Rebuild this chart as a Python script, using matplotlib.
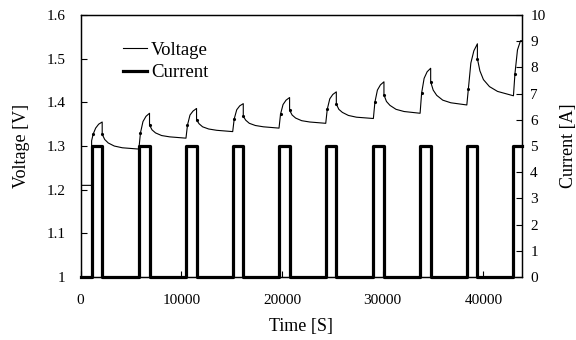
import numpy as np
import matplotlib.pyplot as plt
from matplotlib.ticker import FuncFormatter

plt.rcParams['font.family'] = ['Liberation Serif', 'DejaVu Serif']

# pulse timing [s]
pulse_start = [1090, 5790, 10460, 15100, 19700, 24340, 29070, 33710, 38350, 42980]
pulse_width = 1050
pulse_current = 5.0
t_end = 43815

# voltage before the first pulse
v_initial = 1.21

# voltage during charge, sampled at these offsets from pulse start
charge_dt = [0, 150, 400, 700, 1050]
charge_v = [
    [1.312, 1.327, 1.341, 1.350, 1.355],
    [1.295, 1.330, 1.356, 1.368, 1.375],
    [1.318, 1.348, 1.371, 1.380, 1.386],
    [1.333, 1.362, 1.383, 1.392, 1.397],
    [1.341, 1.373, 1.395, 1.405, 1.411],
    [1.352, 1.384, 1.408, 1.418, 1.424],
    [1.363, 1.400, 1.428, 1.440, 1.447],
    [1.375, 1.421, 1.455, 1.470, 1.478],
    [1.394, 1.430, 1.490, 1.518, 1.534],
    [1.415, 1.466, 1.520, 1.541, 1.541],
]

# voltage during rest, offsets from pulse end (last value at next pulse start)
rest_dt = [0, 250, 600, 1200, 2000]
rest_v = [
    [1.327, 1.315, 1.307, 1.300, 1.296, 1.293],
    [1.348, 1.337, 1.330, 1.324, 1.321, 1.318],
    [1.360, 1.351, 1.344, 1.339, 1.336, 1.333],
    [1.368, 1.359, 1.352, 1.347, 1.344, 1.341],
    [1.382, 1.371, 1.364, 1.358, 1.355, 1.352],
    [1.396, 1.384, 1.377, 1.370, 1.366, 1.363],
    [1.417, 1.402, 1.393, 1.384, 1.379, 1.375],
    [1.447, 1.428, 1.416, 1.405, 1.399, 1.394],
    [1.500, 1.472, 1.452, 1.436, 1.425, 1.415],
]

# build voltage curve
vt = [0, pulse_start[0]]
vv = [v_initial, v_initial]
marks = []
for i, t0 in enumerate(pulse_start):
    for dt, v in zip(charge_dt, charge_v[i]):
        vt.append(min(t0 + dt, t_end))
        vv.append(v)
        if dt == charge_dt[1]:
            marks.append(len(vt) - 1)
    if i < len(rest_v):
        t1 = t0 + pulse_width
        times = [t1 + d for d in rest_dt] + [pulse_start[i + 1]]
        for k, (t, v) in enumerate(zip(times, rest_v[i])):
            vt.append(t)
            vv.append(v)
            if k == 0:
                marks.append(len(vt) - 1)

# build current step curve
ct = [0]
cc = [0]
for t0 in pulse_start:
    t1 = min(t0 + pulse_width, t_end)
    ct += [t0, t0, t1, t1]
    cc += [0, pulse_current, pulse_current, 0 if t1 < t_end else pulse_current]
if ct[-1] < t_end:
    ct.append(t_end)
    cc.append(0)

fig = plt.figure(figsize=(5.76, 3.4), dpi=100)
ax = fig.add_axes([0.140, 0.185, 0.766, 0.771])
ax2 = ax.twinx()

lv, = ax.plot(vt, vv, color='black', lw=0.8, marker='.', markersize=2.5,
              markevery=marks, label='Voltage')
lc, = ax2.plot(ct, cc, color='black', lw=2.3, clip_on=False, label='Current')

ax.set_xlim(0, t_end)
ax.set_ylim(1.0, 1.6)
ax2.set_ylim(0, 10)
ax.set_xticks([0, 10000, 20000, 30000, 40000])
ax.set_yticks([1.0, 1.1, 1.2, 1.3, 1.4, 1.5, 1.6])
ax2.set_yticks(range(0, 11))
ax.yaxis.set_major_formatter(FuncFormatter(lambda y, p: '%g' % y))

ax.tick_params(axis='x', direction='in', length=4, width=0.8, labelsize=11, pad=12)
ax.tick_params(axis='y', direction='in', length=4, width=0.8, labelsize=11, pad=11)
ax2.tick_params(axis='y', direction='in', length=4, width=0.8, labelsize=11, pad=6)
for a in (ax, ax2):
    for s in a.spines.values():
        s.set_linewidth(0.9)

ax.set_xlabel('Time [S]', fontsize=13)
ax.set_ylabel('Voltage [V]', fontsize=13)
ax2.set_ylabel('Current [A]', fontsize=13, rotation=90)
ax.xaxis.set_label_coords(0.5, -0.155)
ax.yaxis.set_label_coords(-0.115, 0.5)
ax2.yaxis.set_label_coords(1.087, 0.5)
ax2.yaxis.label.set_va('top')

fig.legend(handles=[lv, lc], labels=['Voltage', 'Current'], loc='upper left',
           bbox_to_anchor=(0.213, 0.878), frameon=False, fontsize=13.5,
           handlelength=1.3, handletextpad=0.2, labelspacing=0.3, borderpad=0,
           borderaxespad=0)
for h in fig.legends[0].legend_handles:
    h.set_marker('')

plt.savefig('out.png', dpi=100)
